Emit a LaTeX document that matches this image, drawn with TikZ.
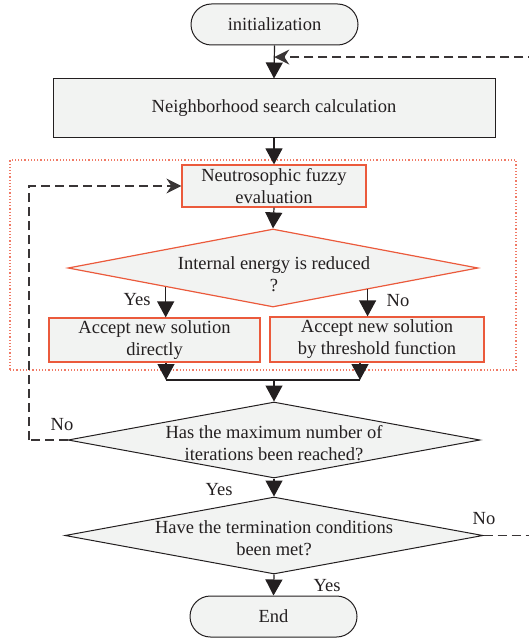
\documentclass[tikz,border=0pt]{standalone}
\usepackage{fontspec}
\setmainfont{Liberation Serif}
\usetikzlibrary{arrows.meta,shapes.geometric,calc}
\definecolor{boxfill}{HTML}{F2F3F2}
\definecolor{redline}{HTML}{EB5A3C}
\definecolor{reddot}{HTML}{F07A66}
\definecolor{inkline}{HTML}{231F20}
\tikzset{
  every node/.style={font=\fontsize{18.5}{22}\selectfont, text=inkline},
  term/.style={draw=inkline, line width=1pt, fill=boxfill, rounded corners=20.5pt, inner sep=0pt},
  procbox/.style={draw=inkline, line width=1pt, fill=boxfill, inner sep=0pt, align=center},
  redbox/.style={draw=redline, line width=1.2pt, fill=boxfill, inner sep=0pt, align=center},
  dia/.style={diamond, draw=inkline, line width=1pt, fill=boxfill, inner sep=0pt},
  reddia/.style={diamond, draw=redline, line width=1.2pt, fill=boxfill, inner sep=0pt},
  txt/.style={align=center, inner sep=0pt},
  lbl/.style={inner sep=0pt},
  arr/.style={draw=inkline, line width=1.2pt, -{Triangle[length=16pt,width=17pt]}},
  plain/.style={draw=inkline, line width=1.2pt},
  dasharr/.style={draw=inkline!90, line width=1.2pt, dash pattern=on 9pt off 5pt, -{Stealth[length=15pt,width=15pt,inset=5pt]}},
  dashline/.style={draw=inkline!90, line width=1.2pt, dash pattern=on 9pt off 5pt},
}
\begin{document}
\begin{tikzpicture}[x=1pt,y=-1pt]
\useasboundingbox (0,0) rectangle (529,639);
% dotted group frame
\node[draw=reddot, line width=1.2pt, dotted, minimum width=506pt, minimum height=210pt, inner sep=0pt] (grp) at (263,265) {};
% nodes
\node[term, minimum width=167pt, minimum height=41pt] (init) at (274.5,24.5) {initialization};
\node[procbox, minimum width=442pt, minimum height=59pt] (nbh) at (274,108.5) {Neighborhood search calculation};
\node[redbox, minimum width=184pt, minimum height=42pt] (neu) at (274,186) {Neutrosophic fuzzy\\evaluation};
\node[reddia, minimum width=410pt, minimum height=78pt] (d1) at (273,268) {};
\node[txt] (d1t) at (274,274) {Internal energy is reduced\\?};
\node[redbox, minimum width=211pt, minimum height=44pt] (accL) at (154.5,340) {Accept new solution\\directly};
\node[redbox, minimum width=214pt, minimum height=45pt] (accR) at (377,339.5) {Accept new solution\\by threshold function};
\node[dia, minimum width=412pt, minimum height=76pt] (d2) at (274,440) {};
\node[txt] (d2t) at (274,443) {Has the maximum number of\\iterations been reached?};
\node[dia, minimum width=418pt, minimum height=77pt] (d3) at (274,535.5) {};
\node[txt] (d3t) at (274,538) {Have the termination conditions\\been met?};
\node[term, minimum width=167pt, minimum height=41pt] (endn) at (273.5,616.5) {End};
% helper coordinates
\coordinate (tap) at ($(init.south)!0.35!(nbh.north)$);
\coordinate (jl) at (166,380);
\coordinate (jr) at (360,380);
\coordinate (jm) at (274,380);
\coordinate (fl) at (29,440);
\coordinate (fr) at (535,535.5);
% connectors
\draw[arr] (init.south) -- (nbh.north);
\draw[arr] (nbh.south) -- (neu.north);
\draw[arr] (neu.south) -- (d1.north);
\coordinate (yesS) at ($(d1.west)!0.478!(d1.south)$);
\coordinate (noS) at ($(d1.east)!0.54!(d1.south)$);
\draw[arr] (yesS) -- (yesS |- accL.north);
\draw[arr] (noS) -- (noS |- accR.north);
\draw[arr] (accL.south -| jl) -- (jl);
\draw[arr] (accR.south -| jr) -- (jr);
\draw[plain] (jl) -- (jr);
\draw[arr] (jm) -- (d2.north);
\draw[arr] (d2.south) -- (d3.north);
\draw[arr] (d3.south) -- (endn.north);
\draw[dashline] (d2.west) -- (fl);
\draw[dasharr] (fl) |- (neu.west);
\draw[dashline] (d3.east) -- (fr);
\draw[dasharr] (fr) |- (tap);
% labels
\node[lbl] (ly1) at (137,300) {Yes};
\node[lbl] (ln1) at (398,301) {No};
\node[lbl] (ln2) at (62,425) {No};
\node[lbl] (ly2) at (219,490) {Yes};
\node[lbl] (ln3) at (484,519) {No};
\node[lbl] (ly3) at (327,586) {Yes};
\end{tikzpicture}
\end{document}
